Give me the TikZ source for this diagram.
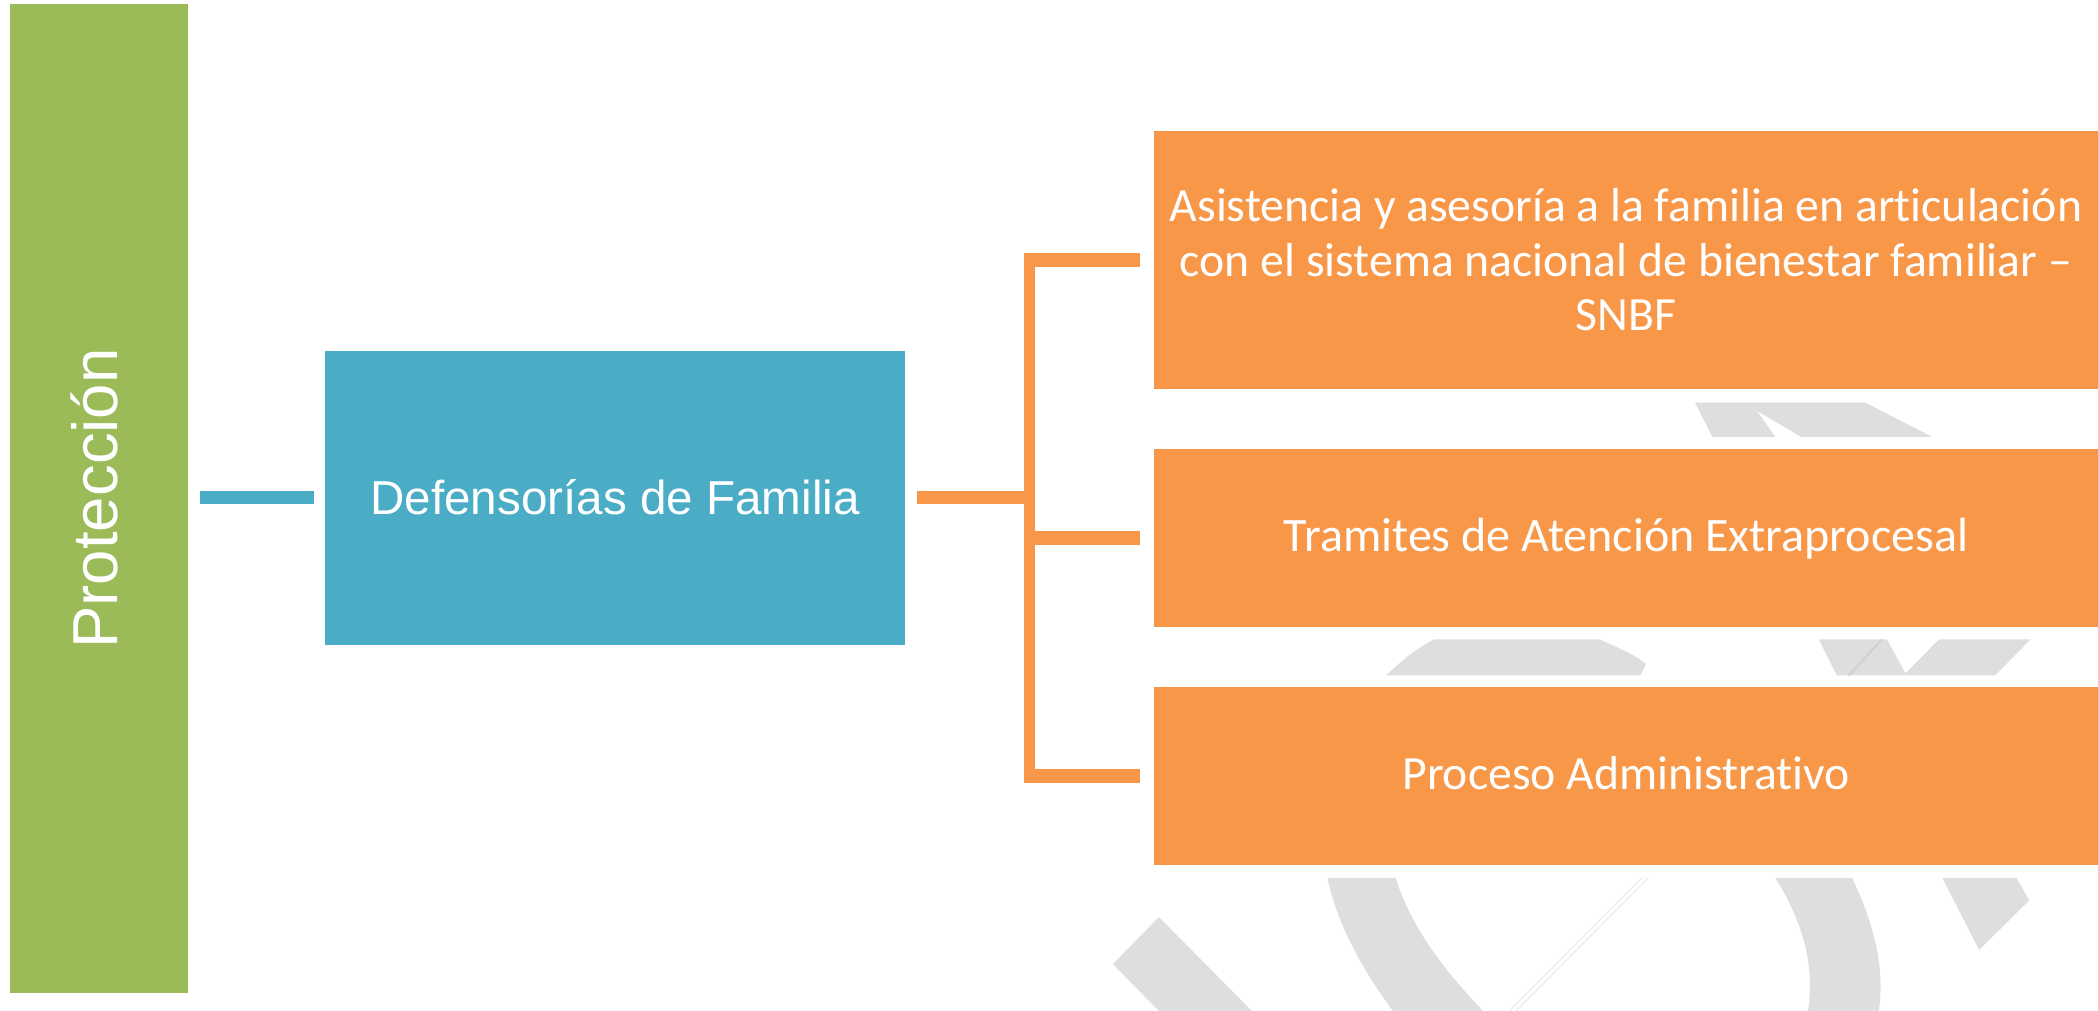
\documentclass[tikz,border=0pt]{standalone}
\usepackage{fontspec}
\setmainfont{Liberation Sans}
\newfontfamily\boxfont[Ligatures=CommonOff]{Carlito}
\definecolor{greenbar}{HTML}{9BBB59}
\definecolor{bluebox}{HTML}{4BACC6}
\definecolor{orangebox}{HTML}{F89748}
\definecolor{mark}{HTML}{DEDEDE}
\definecolor{markline}{HTML}{D0D0D0}
\definecolor{markpale}{HTML}{EBEBEB}
\tikzset{
  box/.style={inner sep=0pt,outer sep=0pt,text=white,align=center},
  greenstyle/.style={box,fill=greenbar,minimum width=989pt,minimum height=178pt,rotate=90},
  bluestyle/.style={box,fill=bluebox,minimum width=580pt,minimum height=294pt},
  orangestyle/.style={box,fill=orangebox,minimum width=944pt,anchor=west},
  bluelink/.style={draw=bluebox,line width=12.5pt},
  orangelink/.style={draw=orangebox,line width=13.5pt},
  orangebus/.style={draw=orangebox,line width=11pt,line cap=rect,shorten <=-1.25pt,shorten >=-1.25pt},
  markshape/.style={fill=mark,draw=none},
}
\begin{document}
\begin{tikzpicture}[x=1pt,y=-1pt]
\useasboundingbox (0,0) rectangle (2098,1011);
\clip (0,0) rectangle (2098,1011);
% watermark pieces between the orange boxes
\begin{scope}[shift={(1050,380)},xscale=0.6684,yscale=0.3333]
\fill[markshape] (965,68)--(1220,68)--(1320,171)--(1124,171)--(1058,93)--(1085,171)--(991,171)--cycle;
\fill[markshape] (503,886) .. controls (530,835) and (550,803) .. (575,778)--(822,778) .. controls (850,803) and (875,825) .. (892,852)--(883,886)--cycle;
\fill[markshape] (1150,778)--(1252,778)--(1280,880)--(1330,778)--(1467,778)--(1414,886)--(1177,886)--cycle;
\draw[markline,line width=2pt] (1245,778)--(1195,886);
\end{scope}
\begin{scope}[shift={(1050,850)},xscale=0.6684,yscale=0.3354]
\fill[markshape] (163,200)--(302,480)--(163,480)--(94,340)--cycle;
\fill[markshape] (415,83)--(517,83) .. controls (540,230) and (590,360) .. (648,480)--(513,480) .. controls (465,350) and (430,220) .. (415,83)--cycle;
\draw[markpale,line width=1.2pt] (886,83)--(687,480) (895,83)--(697,480);
\fill[markshape] (1085,83)--(1200,83) .. controls (1230,210) and (1250,340) .. (1240,480)--(1134,480) .. controls (1145,340) and (1125,210) .. (1085,83)--cycle;
\fill[markshape] (1335,83)--(1446,83)--(1465,150)--(1390,298)--cycle;
\end{scope}
% nodes
\node[greenstyle,font=\fontsize{63.5}{70}\selectfont] (prot) at (99,498.5) {\raisebox{-18.5pt}[0pt][0pt]{Protección}};
\node[bluestyle,font=\fontsize{47.6}{56}\selectfont] (def) at (615,497.5) {Defensorías de Familia};
\node[orangestyle,minimum height=258pt,font=\boxfont\fontsize{47.7}{54.5}\selectfont] (asis) at (1154,260) {Asistencia y asesoría a la familia en articulación\\con el sistema nacional de bienestar familiar –\\SNBF};
\node[orangestyle,minimum height=178pt,font=\boxfont\fontsize{48}{55}\selectfont] (tram) at (1154,538) {\raisebox{-13.7pt}[0pt][0pt]{Tramites de Atención Extraprocesal}};
\node[orangestyle,minimum height=178pt,font=\boxfont\fontsize{47.7}{55}\selectfont] (proc) at (1154,776) {\raisebox{-13pt}[0pt][0pt]{Proceso Administrativo}};
% bus coordinates
\coordinate (bustop) at (1029,260);
\coordinate (busmid) at (1029,497.5);
\coordinate (bustram) at (1029,538);
\coordinate (busbot) at (1029,776);
% connectors
\draw[bluelink,shorten <=12pt,shorten >=11pt] (prot.south |- def.west) -- (def.west);
\draw[orangelink,shorten <=12pt] (def.east) -- (busmid);
\draw[orangebus] (bustop) -- (busbot);
\draw[orangelink,shorten >=14pt] (bustop) -- (asis.west);
\draw[orangelink,shorten >=14pt] (bustram) -- (tram.west);
\draw[orangelink,shorten >=14pt] (busbot) -- (proc.west);
\end{tikzpicture}
\end{document}
